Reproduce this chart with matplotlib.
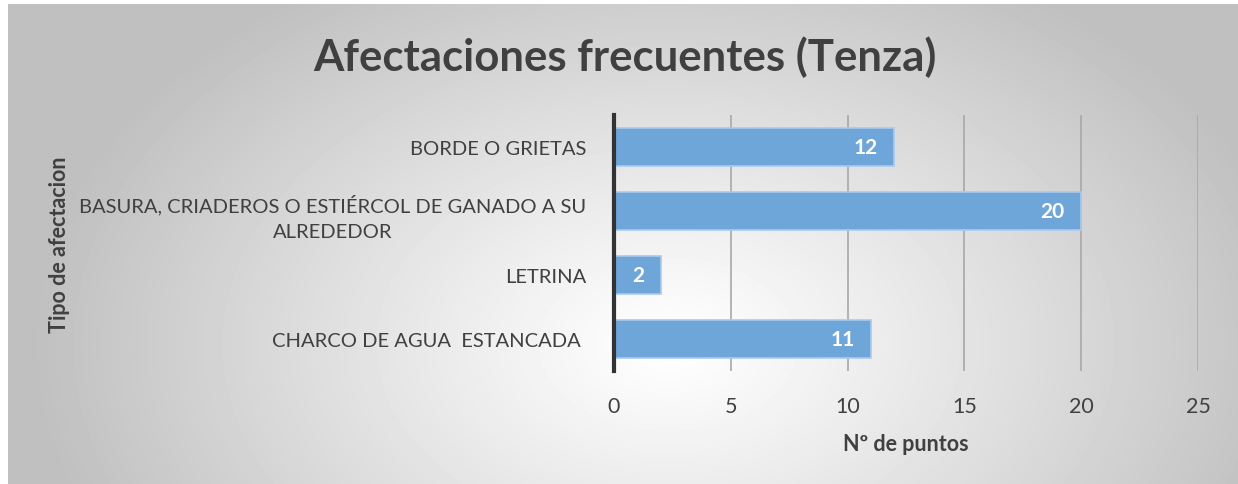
import matplotlib.pyplot as plt
import numpy as np

categorias = ["BORDE O GRIETAS",
              "BASURA, CRIADEROS O ESTIÉRCOL DE GANADO A SU\nALREDEDOR",
              "LETRINA",
              "CHARCO DE AGUA  ESTANCADA "]
puntos = [12, 20, 2, 11]
ticks_x = [0, 5, 10, 15, 20, 25]

plt.rcParams['font.family'] = ['Lato', 'DejaVu Sans']

W, H = 1238, 485
fig = plt.figure(figsize=(W / 100, H / 100), dpi=100)
fig.patch.set_facecolor('white')

# fondo con degradado radial
bg = fig.add_axes([8 / W, 0, (W - 8) / W, (H - 5) / H])
yy, xx = np.mgrid[0:480, 0:1230]
r = np.sqrt(((xx - 660) / 640.0) ** 2 + ((yy - 340) / 430.0) ** 2)
val = 1.0 - 0.25 * np.clip(r, 0, 1) ** 1.1
bg.imshow(val, cmap='gray', vmin=0, vmax=1, aspect='auto', interpolation='bilinear')
bg.axis('off')

ax = fig.add_axes([614 / W, 1 - 372 / H, (1198 - 614) / W, (372 - 116) / H])
ax.set_facecolor('none')
y = np.arange(len(categorias))
bars = ax.barh(y, puntos, height=0.58, color='#6fa6da', edgecolor='#a9cbec',
               linewidth=1.2, zorder=3)
ax.set_ylim(len(categorias) - 0.5, -0.5)
ax.set_xlim(0, 25)
ax.set_xticks(ticks_x)
ax.set_yticks(y)
ax.set_yticklabels(categorias, fontsize=14.5, color='#404040', ha='right',
                   multialignment='center', linespacing=1.6)
ax.tick_params(axis='y', length=0, pad=20)
ax.tick_params(axis='x', length=0, pad=18, labelsize=15.5, labelcolor='#404040')
ax.grid(axis='x', color='#a8a8a8', linewidth=1.2, zorder=0)
for s in ['top', 'right', 'bottom']:
    ax.spines[s].set_visible(False)
ax.spines['left'].set_color('#333333')
ax.spines['left'].set_linewidth(3)
ax.spines['left'].set_zorder(5)

for b, v in zip(bars, puntos):
    ax.text(v - 0.7, b.get_y() + b.get_height() / 2, str(v), ha='right', va='center',
            color='white', fontsize=15, fontweight='bold', zorder=4)

ax.set_xlabel('Nº de puntos', fontsize=15.5, fontweight='bold', color='#404040', labelpad=12)
fig.text(60 / W, 1 - 245 / H, 'Tipo de afectacion', rotation=90, ha='center', va='center',
         fontsize=15.5, fontweight='bold', color='#404040')

fig.text(625 / W, 1 - 57 / H, 'Afectaciones frecuentes (Tenza)', ha='center', va='center',
         fontsize=31.5, fontweight='bold', color='#404040')

fig.savefig('out.png', dpi=100)
